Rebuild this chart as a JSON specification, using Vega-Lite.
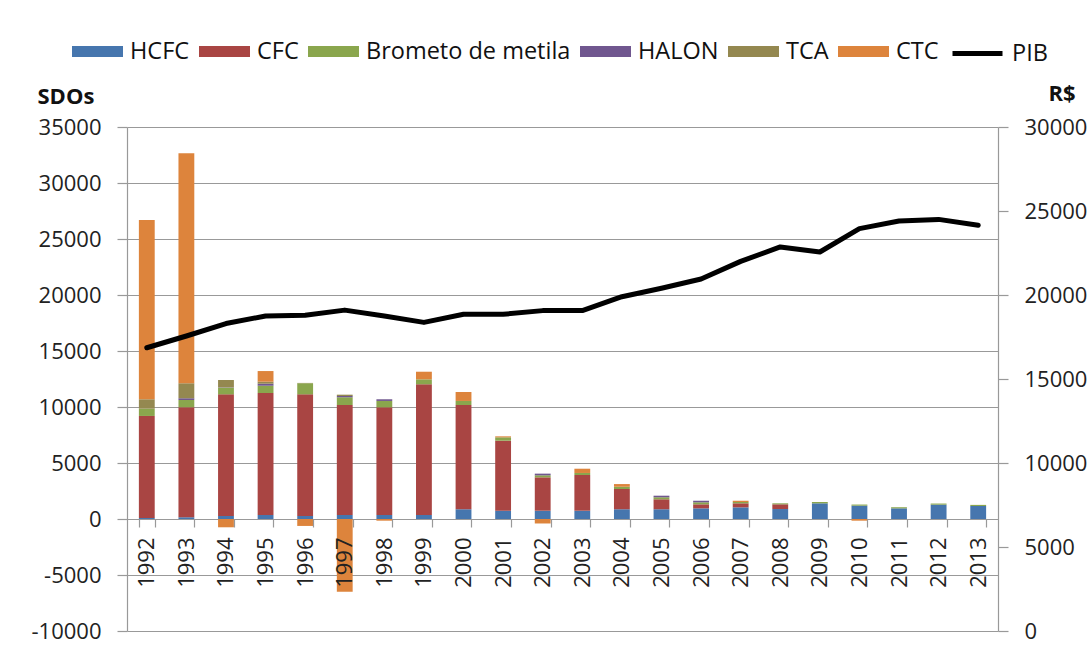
{
  "$schema": "https://vega.github.io/schema/vega-lite/v6.json",
  "width": 871,
  "height": 504,
  "autosize": {"type": "none"},
  "padding": {"left": 127, "top": 127, "right": 93, "bottom": 17},
  "background": "white",
  "config": {"font": "Open Sans", "view": {"stroke": null}},
  "datasets": {
    "sdo": [
      {"ano": "1992", "tipo": "HCFC", "ord": 1, "valor": 100},
      {"ano": "1992", "tipo": "CFC", "ord": 2, "valor": 9100},
      {"ano": "1992", "tipo": "Brometo de metila", "ord": 3, "valor": 650},
      {"ano": "1992", "tipo": "TCA", "ord": 5, "valor": 840},
      {"ano": "1992", "tipo": "CTC", "ord": 6, "valor": 16000},
      {"ano": "1993", "tipo": "HCFC", "ord": 1, "valor": 150},
      {"ano": "1993", "tipo": "CFC", "ord": 2, "valor": 9820},
      {"ano": "1993", "tipo": "Brometo de metila", "ord": 3, "valor": 660},
      {"ano": "1993", "tipo": "HALON", "ord": 4, "valor": 150},
      {"ano": "1993", "tipo": "TCA", "ord": 5, "valor": 1340},
      {"ano": "1993", "tipo": "CTC", "ord": 6, "valor": 20530},
      {"ano": "1994", "tipo": "HCFC", "ord": 1, "valor": 270},
      {"ano": "1994", "tipo": "CFC", "ord": 2, "valor": 10860},
      {"ano": "1994", "tipo": "Brometo de metila", "ord": 3, "valor": 590},
      {"ano": "1994", "tipo": "HALON", "ord": 4, "valor": 30},
      {"ano": "1994", "tipo": "TCA", "ord": 5, "valor": 660},
      {"ano": "1994", "tipo": "CTC", "ord": 6, "valor": -740},
      {"ano": "1995", "tipo": "HCFC", "ord": 1, "valor": 360},
      {"ano": "1995", "tipo": "CFC", "ord": 2, "valor": 10890},
      {"ano": "1995", "tipo": "Brometo de metila", "ord": 3, "valor": 650},
      {"ano": "1995", "tipo": "HALON", "ord": 4, "valor": 180},
      {"ano": "1995", "tipo": "TCA", "ord": 5, "valor": 180},
      {"ano": "1995", "tipo": "CTC", "ord": 6, "valor": 950},
      {"ano": "1996", "tipo": "HCFC", "ord": 1, "valor": 270},
      {"ano": "1996", "tipo": "CFC", "ord": 2, "valor": 10860},
      {"ano": "1996", "tipo": "Brometo de metila", "ord": 3, "valor": 990},
      {"ano": "1996", "tipo": "TCA", "ord": 5, "valor": 30},
      {"ano": "1996", "tipo": "CTC", "ord": 6, "valor": -620},
      {"ano": "1997", "tipo": "HCFC", "ord": 1, "valor": 360},
      {"ano": "1997", "tipo": "CFC", "ord": 2, "valor": 9820},
      {"ano": "1997", "tipo": "Brometo de metila", "ord": 3, "valor": 690},
      {"ano": "1997", "tipo": "HALON", "ord": 4, "valor": 110},
      {"ano": "1997", "tipo": "TCA", "ord": 5, "valor": 120},
      {"ano": "1997", "tipo": "CTC", "ord": 6, "valor": -6500},
      {"ano": "1998", "tipo": "HCFC", "ord": 1, "valor": 360},
      {"ano": "1998", "tipo": "CFC", "ord": 2, "valor": 9610},
      {"ano": "1998", "tipo": "Brometo de metila", "ord": 3, "valor": 570},
      {"ano": "1998", "tipo": "HALON", "ord": 4, "valor": 150},
      {"ano": "1998", "tipo": "CTC", "ord": 6, "valor": -150},
      {"ano": "1999", "tipo": "HCFC", "ord": 1, "valor": 360},
      {"ano": "1999", "tipo": "CFC", "ord": 2, "valor": 11670},
      {"ano": "1999", "tipo": "Brometo de metila", "ord": 3, "valor": 440},
      {"ano": "1999", "tipo": "CTC", "ord": 6, "valor": 680},
      {"ano": "2000", "tipo": "HCFC", "ord": 1, "valor": 870},
      {"ano": "2000", "tipo": "CFC", "ord": 2, "valor": 9310},
      {"ano": "2000", "tipo": "Brometo de metila", "ord": 3, "valor": 360},
      {"ano": "2000", "tipo": "CTC", "ord": 6, "valor": 800},
      {"ano": "2001", "tipo": "HCFC", "ord": 1, "valor": 740},
      {"ano": "2001", "tipo": "CFC", "ord": 2, "valor": 6250},
      {"ano": "2001", "tipo": "Brometo de metila", "ord": 3, "valor": 300},
      {"ano": "2001", "tipo": "CTC", "ord": 6, "valor": 90},
      {"ano": "2002", "tipo": "HCFC", "ord": 1, "valor": 740},
      {"ano": "2002", "tipo": "CFC", "ord": 2, "valor": 2980},
      {"ano": "2002", "tipo": "Brometo de metila", "ord": 3, "valor": 180},
      {"ano": "2002", "tipo": "HALON", "ord": 4, "valor": 150},
      {"ano": "2002", "tipo": "CTC", "ord": 6, "valor": -400},
      {"ano": "2003", "tipo": "HCFC", "ord": 1, "valor": 740},
      {"ano": "2003", "tipo": "CFC", "ord": 2, "valor": 3190},
      {"ano": "2003", "tipo": "Brometo de metila", "ord": 3, "valor": 180},
      {"ano": "2003", "tipo": "CTC", "ord": 6, "valor": 380},
      {"ano": "2004", "tipo": "HCFC", "ord": 1, "valor": 870},
      {"ano": "2004", "tipo": "CFC", "ord": 2, "valor": 1810},
      {"ano": "2004", "tipo": "Brometo de metila", "ord": 3, "valor": 200},
      {"ano": "2004", "tipo": "CTC", "ord": 6, "valor": 240},
      {"ano": "2005", "tipo": "HCFC", "ord": 1, "valor": 870},
      {"ano": "2005", "tipo": "CFC", "ord": 2, "valor": 890},
      {"ano": "2005", "tipo": "Brometo de metila", "ord": 3, "valor": 180},
      {"ano": "2005", "tipo": "HALON", "ord": 4, "valor": 140},
      {"ano": "2006", "tipo": "HCFC", "ord": 1, "valor": 950},
      {"ano": "2006", "tipo": "CFC", "ord": 2, "valor": 360},
      {"ano": "2006", "tipo": "Brometo de metila", "ord": 3, "valor": 180},
      {"ano": "2006", "tipo": "HALON", "ord": 4, "valor": 140},
      {"ano": "2007", "tipo": "HCFC", "ord": 1, "valor": 1040},
      {"ano": "2007", "tipo": "CFC", "ord": 2, "valor": 360},
      {"ano": "2007", "tipo": "Brometo de metila", "ord": 3, "valor": 120},
      {"ano": "2007", "tipo": "CTC", "ord": 6, "valor": 110},
      {"ano": "2008", "tipo": "HCFC", "ord": 1, "valor": 890},
      {"ano": "2008", "tipo": "CFC", "ord": 2, "valor": 420},
      {"ano": "2008", "tipo": "Brometo de metila", "ord": 3, "valor": 90},
      {"ano": "2009", "tipo": "HCFC", "ord": 1, "valor": 1400},
      {"ano": "2009", "tipo": "Brometo de metila", "ord": 3, "valor": 120},
      {"ano": "2010", "tipo": "HCFC", "ord": 1, "valor": 1190},
      {"ano": "2010", "tipo": "Brometo de metila", "ord": 3, "valor": 100},
      {"ano": "2010", "tipo": "CTC", "ord": 6, "valor": -150},
      {"ano": "2011", "tipo": "HCFC", "ord": 1, "valor": 950},
      {"ano": "2011", "tipo": "Brometo de metila", "ord": 3, "valor": 100},
      {"ano": "2012", "tipo": "HCFC", "ord": 1, "valor": 1280},
      {"ano": "2012", "tipo": "Brometo de metila", "ord": 3, "valor": 100},
      {"ano": "2013", "tipo": "HCFC", "ord": 1, "valor": 1160},
      {"ano": "2013", "tipo": "Brometo de metila", "ord": 3, "valor": 100}
    ],
    "pib": [
      {"ano": "1992", "serie": "PIB", "pib": 16860},
      {"ano": "1993", "serie": "PIB", "pib": 17560},
      {"ano": "1994", "serie": "PIB", "pib": 18300},
      {"ano": "1995", "serie": "PIB", "pib": 18750},
      {"ano": "1996", "serie": "PIB", "pib": 18800},
      {"ano": "1997", "serie": "PIB", "pib": 19100},
      {"ano": "1998", "serie": "PIB", "pib": 18750},
      {"ano": "1999", "serie": "PIB", "pib": 18370},
      {"ano": "2000", "serie": "PIB", "pib": 18850},
      {"ano": "2001", "serie": "PIB", "pib": 18850},
      {"ano": "2002", "serie": "PIB", "pib": 19070},
      {"ano": "2003", "serie": "PIB", "pib": 19070},
      {"ano": "2004", "serie": "PIB", "pib": 19900},
      {"ano": "2005", "serie": "PIB", "pib": 20400},
      {"ano": "2006", "serie": "PIB", "pib": 20950},
      {"ano": "2007", "serie": "PIB", "pib": 22000},
      {"ano": "2008", "serie": "PIB", "pib": 22860},
      {"ano": "2009", "serie": "PIB", "pib": 22560},
      {"ano": "2010", "serie": "PIB", "pib": 23950},
      {"ano": "2011", "serie": "PIB", "pib": 24400},
      {"ano": "2012", "serie": "PIB", "pib": 24500},
      {"ano": "2013", "serie": "PIB", "pib": 24150}
    ]
  },
  "layer": [
    {
      "data": {"name": "sdo"},
      "mark": {"type": "bar"},
      "encoding": {
        "x": {
          "field": "ano", "type": "nominal",
          "scale": {"paddingInner": 0.6, "paddingOuter": 0.3},
          "axis": {
            "title": null, "offset": -112, "domain": false, "grid": false,
            "tickBand": "extent", "tickSize": 8, "tickColor": "#999", "tickWidth": 1.2,
            "labelAngle": -90, "labelPadding": 10, "labelFontSize": 22, "labelColor": "#222",
            "labelOverlap": false,
            "zindex": 1
          }
        },
        "y": {
          "field": "valor", "type": "quantitative", "stack": "zero",
          "scale": {"domain": [-10000, 35000], "nice": false, "zero": false},
          "axis": {
            "title": "SDOs", "titleAngle": 0, "titleFontWeight": "bold", "titleFontSize": 22,
            "titleX": -90, "titleY": -31, "titleAlign": "left", "titleBaseline": "middle", "titleColor": "#111",
            "values": [-10000, -5000, 0, 5000, 10000, 15000, 20000, 25000, 30000, 35000],
            "labelExpr": "'' + datum.value",
            "grid": true, "gridColor": "#999", "gridWidth": 1.2,
            "domainColor": "#999", "domainWidth": 1.2,
            "tickColor": "#999", "tickWidth": 1.2, "tickSize": 10,
            "labelPadding": 16, "labelFontSize": 22, "labelColor": "#222"
          }
        },
        "color": {
          "field": "tipo", "type": "nominal",
          "scale": {
            "domain": ["HCFC", "CFC", "Brometo de metila", "HALON", "TCA", "CTC"],
            "range": ["#4676AE", "#A94543", "#8AA64D", "#70578F", "#948850", "#DD843C"]
          },
          "legend": {
            "title": null, "orient": "none", "direction": "horizontal",
            "legendX": -55, "legendY": -101, "padding": 0,
            "symbolType": "M-1,-0.22H1V0.22H-1Z", "symbolSize": 2601, "symbolStrokeWidth": 0,
            "labelFontSize": 23.5, "labelColor": "#111", "labelOffset": 7, "labelLimit": 400,
            "columnPadding": 9
          }
        },
        "order": {"field": "ord", "type": "quantitative"}
      }
    },
    {
      "data": {"name": "pib"},
      "mark": {"type": "line", "strokeWidth": 5, "strokeJoin": "round", "strokeCap": "round"},
      "encoding": {
        "x": {"field": "ano", "type": "nominal"},
        "y": {
          "field": "pib", "type": "quantitative",
          "scale": {"domain": [0, 30000], "nice": false},
          "axis": {
            "orient": "right",
            "title": "R$", "titleAngle": 0, "titleFontWeight": "bold", "titleFontSize": 22,
            "titleX": 50, "titleY": -34, "titleAlign": "left", "titleBaseline": "middle", "titleColor": "#111",
            "values": [0, 5000, 10000, 15000, 20000, 25000, 30000],
            "labelExpr": "'' + datum.value", "grid": false,
            "domainColor": "#999", "domainWidth": 1.2,
            "tickColor": "#999", "tickWidth": 1.2, "tickSize": 10,
            "labelPadding": 16, "labelFontSize": 22, "labelColor": "#222"
          }
        },
        "stroke": {
          "field": "serie", "type": "nominal",
          "scale": {"range": ["#000000"]},
          "legend": {
            "title": null, "orient": "none", "direction": "horizontal",
            "legendX": 823, "legendY": -101, "padding": 0,
            "symbolType": "stroke", "symbolSize": 2500, "symbolStrokeWidth": 5,
            "labelFontSize": 23.5, "labelColor": "#111", "labelOffset": 7, "labelLimit": 400
          }
        }
      }
    }
  ],
  "resolve": {"scale": {"y": "independent"}}
}
